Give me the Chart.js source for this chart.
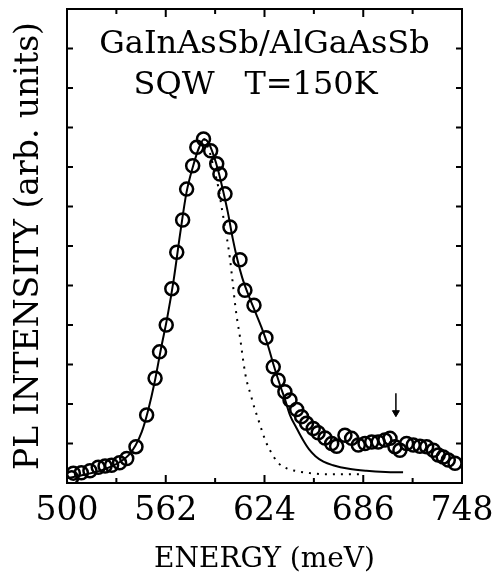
<!DOCTYPE html>
<html>
<head>
<meta charset="utf-8">
<script src="https://cdn.jsdelivr.net/npm/chart.js@4/dist/chart.umd.min.js"></script>
<style>
  html, body { margin: 0; padding: 0; background: #fff; }
  #wrap { width: 494px; height: 577px; }
</style>
</head>
<body>
<div id="wrap"><canvas id="pl"></canvas></div>
<script>
// measured PL points (open circles)
const circleEnergy = [502.9, 504, 509, 514.4, 519.6, 523.9, 528, 533, 537.5, 543.3, 550, 555.3, 558.1, 562.3, 565.8, 568.9,
  572.6, 575.1, 578.9, 581.5, 585.7, 590.2, 594, 596, 599.2, 602.3, 608.6, 611.7, 617.4, 624.9, 629.5, 632.6, 636.8,
  640, 644.2, 647.3, 650.4, 654.6, 657.7, 662, 666.2, 669.3, 674.5, 678.7, 682.9, 687.1, 691.3, 695.4, 699.6, 702.8,
  705.9, 709, 713.2, 717.4, 721.6, 725.8, 730, 733.1, 736.2, 739.4, 743.6];
const circleIntensity = [0.13, 0.25, 0.26, 0.31, 0.40, 0.43, 0.45, 0.51, 0.62, 0.92, 1.72, 2.65, 3.32, 4.0, 4.92, 5.84,
  6.66, 7.44, 8.03, 8.50, 8.71, 8.41, 8.08, 7.82, 7.32, 6.48, 5.65, 4.88, 4.50, 3.68, 2.94, 2.60, 2.31,
  2.10, 1.86, 1.68, 1.51, 1.38, 1.27, 1.14, 1.00, 0.93, 1.21, 1.13, 0.96, 1.00, 1.04, 1.04, 1.09, 1.13,
  0.92, 0.83, 1.00, 0.96, 0.93, 0.92, 0.83, 0.71, 0.66, 0.58, 0.50];

// solid fit
const fitEnergy = [500, 510, 520, 528, 534, 539, 543, 547, 551, 555, 559, 563, 567, 571, 575, 579, 583, 586, 589, 592,
  595, 598, 601, 604, 607, 610, 614, 618, 622, 626, 630, 634, 637, 640, 644, 648, 652, 656, 661, 667, 677, 688, 700, 711];
const fitIntensity = [0.12, 0.2, 0.3, 0.42, 0.55, 0.72, 0.95, 1.3, 1.85, 2.55, 3.4, 4.2, 5.15, 6.3, 7.35, 8.0, 8.5, 8.7, 8.6, 8.3,
  7.9, 7.4, 6.85, 6.2, 5.65, 5.2, 4.75, 4.35, 3.95, 3.5, 2.95, 2.45, 2.1, 1.72, 1.4, 1.1, 0.85, 0.68, 0.54, 0.45, 0.36, 0.31, 0.28, 0.27];

// dotted fit
const dotEnergy = [586, 589, 592, 595, 597.1, 599.2, 601.3, 602.3, 604, 605.5, 606.9, 608.6, 610.3, 612, 613.8, 615.3,
  616.5, 618, 619.5, 621.2, 622.9, 624.9, 627.4, 632.6, 638, 643, 652.5, 663, 677, 684];
const dotIntensity = [8.72, 8.45, 8.0, 7.49, 6.98, 6.48, 5.97, 5.68, 5.09, 4.54, 4.12, 3.70, 3.19, 2.75, 2.43, 2.25,
  2.06, 1.86, 1.68, 1.47, 1.26, 1.04, 0.83, 0.51, 0.37, 0.31, 0.25, 0.22, 0.22, 0.22];

// arrow marking the feature
const arrowEnergy = [706.5, 706.5];
const arrowIntensity = [2.27, 1.78];

const xMajorTicks = [500, 562, 624, 686, 748];

function toPoints(xs, ys) {
  return xs.map((v, i) => ({ x: v, y: ys[i] }));
}

Chart.defaults.color = '#000';
Chart.defaults.font.family = '"DejaVu Serif", serif';

const frameAndTicks = {
  id: 'frameAndTicks',
  afterDatasetsDraw(chart) {
    const { ctx, chartArea: a, scales: { x, y } } = chart;
    ctx.save();
    ctx.strokeStyle = '#000';
    ctx.lineWidth = 2;
    ctx.strokeRect(a.left, a.top, a.right - a.left, a.bottom - a.top);
    ctx.beginPath();
    x.ticks.forEach(t => {
      if (t.value === x.min || t.value === x.max) return;
      const px = x.getPixelForValue(t.value);
      const len = xMajorTicks.includes(t.value) ? 8 : 5;
      ctx.moveTo(px, a.bottom); ctx.lineTo(px, a.bottom - len);
      ctx.moveTo(px, a.top); ctx.lineTo(px, a.top + len);
    });
    y.ticks.forEach(t => {
      if (t.value === y.min || t.value === y.max) return;
      const py = y.getPixelForValue(t.value);
      ctx.moveTo(a.left, py); ctx.lineTo(a.left + 6, py);
      ctx.moveTo(a.right, py); ctx.lineTo(a.right - 6, py);
    });
    ctx.stroke();

    // sample label
    ctx.fillStyle = '#000';
    ctx.font = '32px "DejaVu Serif"';
    ctx.textAlign = 'center';
    ctx.textBaseline = 'middle';
    ctx.fillText('GaInAsSb/AlGaAsSb', (a.left + a.right) / 2, a.top + 36);
    ctx.fillText('SQW', a.left + 107, a.top + 77);
    ctx.fillText('T=150K', a.left + 244, a.top + 77);
    ctx.restore();
  }
};

new Chart(document.getElementById('pl'), {
  type: 'scatter',
  data: {
    datasets: [
      {
        label: 'arrow',
        data: toPoints(arrowEnergy, arrowIntensity),
        showLine: true,
        borderColor: '#000',
        borderWidth: 1.5,
        backgroundColor: '#000',
        pointStyle: 'triangle',
        pointRotation: 180,
        pointRadius: [0, 4],
        pointBorderWidth: 1
      },
      {
        label: 'data',
        data: toPoints(circleEnergy, circleIntensity),
        showLine: false,
        pointStyle: 'circle',
        pointRadius: 6.5,
        pointBorderWidth: 2.5,
        borderColor: '#000',
        backgroundColor: 'rgba(0,0,0,0)'
      },
      {
        label: 'fit',
        data: toPoints(fitEnergy, fitIntensity),
        showLine: true,
        pointRadius: 0,
        borderColor: '#000',
        borderWidth: 2,
        cubicInterpolationMode: 'monotone'
      },
      {
        label: 'dotted',
        data: toPoints(dotEnergy, dotIntensity),
        showLine: true,
        pointRadius: 0,
        borderColor: '#000',
        borderWidth: 2,
        borderDash: [2, 6],
        cubicInterpolationMode: 'monotone'
      }
    ]
  },
  options: {
    responsive: true,
    maintainAspectRatio: false,
    animation: false,
    events: [],
    layout: { padding: { left: 0, right: 32, top: 8, bottom: 0 } },
    plugins: { legend: { display: false }, tooltip: { enabled: false } },
    scales: {
      x: {
        type: 'linear',
        min: 500,
        max: 748,
        afterFit: s => { s.height = 94; s.paddingLeft = 0; s.paddingRight = 0; },
        grid: { display: false, drawTicks: false },
        border: { display: false },
        ticks: {
          stepSize: 31,
          autoSkip: false,
          maxRotation: 0,
          padding: 9,
          font: { size: 33 },
          callback: v => xMajorTicks.includes(v) ? String(v) : ''
        },
        title: {
          display: true,
          text: 'ENERGY (meV)',
          font: { size: 28 },
          padding: { top: 0, bottom: 0 }
        }
      },
      y: {
        type: 'linear',
        min: 0,
        max: 12,
        afterFit: s => { s.width = 67; },
        grid: { display: false, drawTicks: false },
        border: { display: false },
        ticks: { stepSize: 1, display: false },
        title: {
          display: true,
          text: 'PL INTENSITY (arb. units)',
          font: { size: 33 },
          padding: { top: 10, bottom: 0 }
        }
      }
    }
  },
  plugins: [frameAndTicks]
});
</script>
</body>
</html>
